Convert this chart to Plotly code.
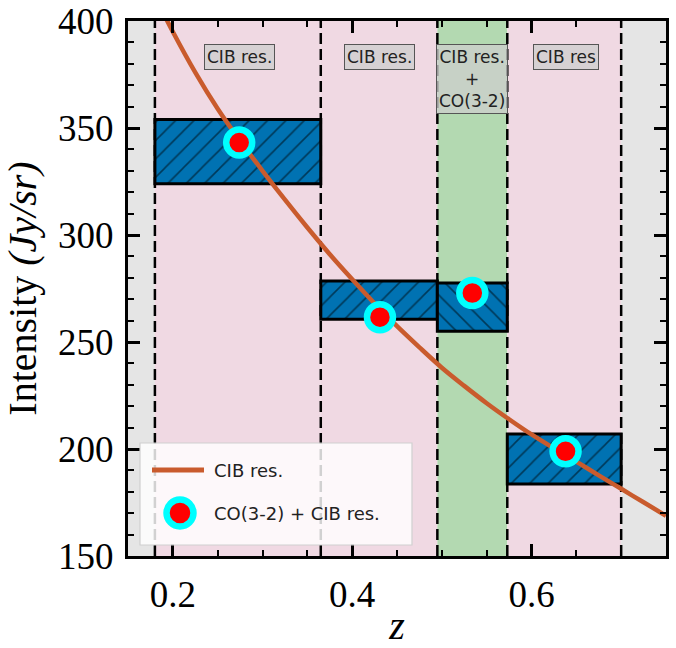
import plotly.graph_objects as go

# ---- data ----
z_edges = [0.18, 0.365, 0.495, 0.573, 0.70]
box_low = [324.0, 260.6, 255.0, 183.6]
box_high = [354.0, 278.5, 277.6, 207.0]
point_z = [0.274, 0.431, 0.534, 0.638]
point_I = [343.2, 261.6, 272.9, 198.9]
curve_z = [0.19, 0.20, 0.225, 0.25, 0.275, 0.30, 0.325, 0.35, 0.375, 0.40, 0.425,
           0.45, 0.475, 0.50, 0.525, 0.55, 0.575, 0.60, 0.625, 0.65, 0.675, 0.70,
           0.725, 0.75]
curve_I = [403.2, 395.0, 376.0, 359.0, 344.0, 330.0, 316.5, 303.5, 291.0, 279.3, 268.0,
           257.4, 247.5, 238.0, 229.5, 221.4, 213.9, 206.8, 200.3, 194.1, 187.7, 181.4,
           175.1, 168.8]
band_labels = ["CIB res.", "CIB res.", "CIB res.<br>+<br>CO(3-2)", "CIB res"]
band_kind = ["cib", "cib", "co", "cib"]
legend_names = ["CIB res.", "CO(3-2) + CIB res."]
x_range = [0.15, 0.75]
y_range = [150, 400]
x_ticks = [0.2, 0.4, 0.6]
y_ticks = [150, 200, 250, 300, 350, 400]

PINK = "rgb(240,217,227)"
GREEN = "rgb(179,217,177)"
GRAY = "rgb(229,229,229)"
BLUE = "#0072B2"
ORANGE = "#c95b2d"

W, H = 676, 648
ML, MR, MT, MB = 128, 10, 21, 92
PW, PH = W - ML - MR, H - MT - MB


def px_x(p):  # pixel -> paper fraction
    return (p - ML) / PW


def px_y(p):
    return (MT + PH - p) / PH


fig = go.Figure()

shapes = []
shapes.append(dict(type="rect", xref="x", yref="paper", x0=x_range[0], x1=z_edges[0],
                   y0=0, y1=1, fillcolor=GRAY, line_width=0, layer="below"))
shapes.append(dict(type="rect", xref="x", yref="paper", x0=z_edges[-1], x1=x_range[1],
                   y0=0, y1=1, fillcolor=GRAY, line_width=0, layer="below"))
for i in range(len(z_edges) - 1):
    col = GREEN if band_kind[i] == "co" else PINK
    shapes.append(dict(type="rect", xref="x", yref="paper", x0=z_edges[i], x1=z_edges[i + 1],
                       y0=0, y1=1, fillcolor=col, line_width=0, layer="below"))
for e in z_edges:
    shapes.append(dict(type="line", xref="x", yref="paper", x0=e, x1=e, y0=0, y1=1,
                       line=dict(color="black", width=2.5, dash="11px,5px"), layer="below"))

# boxes
centers = [(z_edges[i] + z_edges[i + 1]) / 2 for i in range(len(z_edges) - 1)]
widths = [z_edges[i + 1] - z_edges[i] for i in range(len(z_edges) - 1)]
heights = [h - l for h, l in zip(box_high, box_low)]
patterns = ["\\" if k == "co" else "/" for k in band_kind]
fig.add_trace(go.Bar(
    x=centers, y=heights, base=box_low, width=widths,
    marker=dict(color=BLUE, line=dict(color="black", width=3),
                pattern=dict(shape=patterns, fgcolor="black", bgcolor=BLUE,
                             size=13, solidity=0.12)),
    showlegend=False, hoverinfo="skip"))

fig.add_trace(go.Scatter(x=curve_z, y=curve_I, mode="lines", name=legend_names[0],
                         line=dict(color=ORANGE, width=4.5, shape="spline"),
                         showlegend=False))
fig.add_trace(go.Scatter(x=point_z, y=point_I, mode="markers", name=legend_names[1],
                         marker=dict(color="red", size=26, line=dict(color="cyan", width=6.5)),
                         showlegend=False))

# hand-drawn legend (to keep large marker)
shapes.append(dict(type="rect", xref="paper", yref="paper",
                   x0=px_x(140), x1=px_x(412), y0=px_y(545), y1=px_y(443),
                   fillcolor="rgba(255,255,255,0.82)", line=dict(color="#d0d0d0", width=1.2),
                   layer="above"))
shapes.append(dict(type="line", xref="paper", yref="paper",
                   x0=px_x(152), x1=px_x(204), y0=px_y(470), y1=px_y(470),
                   line=dict(color=ORANGE, width=5), layer="above"))
r = 13.5
shapes.append(dict(type="circle", xref="paper", yref="paper",
                   x0=px_x(180 - r), x1=px_x(180 + r), y0=px_y(513 + r), y1=px_y(513 - r),
                   fillcolor="red", line=dict(color="cyan", width=6.5), layer="above"))

annotations = []
for nm, yy in zip(legend_names, [470, 513]):
    annotations.append(dict(x=px_x(212), y=px_y(yy), xref="paper", yref="paper", text=nm,
                            showarrow=False, xanchor="left", yanchor="middle",
                            font=dict(family="DejaVu Sans", size=18, color="#222")))

for zx, lab in zip(point_z, band_labels):
    annotations.append(dict(x=zx, y=px_y(44), xref="x", yref="paper", text=lab,
                            showarrow=False, yanchor="top",
                            font=dict(family="DejaVu Sans", size=17, color="#222"),
                            bgcolor="rgba(205,205,205,0.75)", bordercolor="#555",
                            borderwidth=1, borderpad=2))

fig.update_layout(
    width=W, height=H,
    margin=dict(l=ML, r=MR, t=MT, b=MB),
    paper_bgcolor="white", plot_bgcolor="white",
    barmode="overlay", showlegend=False,
    shapes=shapes, annotations=annotations,
    font=dict(family="Liberation Serif", size=36, color="black"),
    xaxis=dict(range=x_range, tickvals=x_ticks, ticktext=["0.2", "0.4", "0.6"],
               ticks="inside", ticklen=12, tickwidth=2.5, tickcolor="black",
               minor=dict(dtick=0.05, tick0=0.0, ticks="inside", ticklen=6, tickwidth=1.5,
                          tickcolor="black"),
               showline=True, linecolor="black", linewidth=3, mirror="ticks",
               showgrid=False, zeroline=False, automargin=False,
               tickfont=dict(size=37), ticklabelstandoff=4,
               title=dict(text="<i>z</i>", font=dict(size=40), standoff=14)),
    yaxis=dict(range=y_range, tickvals=y_ticks,
               ticks="inside", ticklen=12, tickwidth=2.5, tickcolor="black",
               minor=dict(dtick=10, tick0=0, ticks="inside", ticklen=6, tickwidth=1.5,
                          tickcolor="black"),
               showline=True, linecolor="black", linewidth=3, mirror="ticks",
               showgrid=False, zeroline=False, automargin=False,
               tickfont=dict(size=37), ticklabelstandoff=4,
               title=dict(text="Intensity <i>(Jy/sr)</i>", font=dict(size=40), standoff=10)),
)

fig.write_html("out.html", config={"displayModeBar": False},
               post_script="document.body.style.margin='0px';")
